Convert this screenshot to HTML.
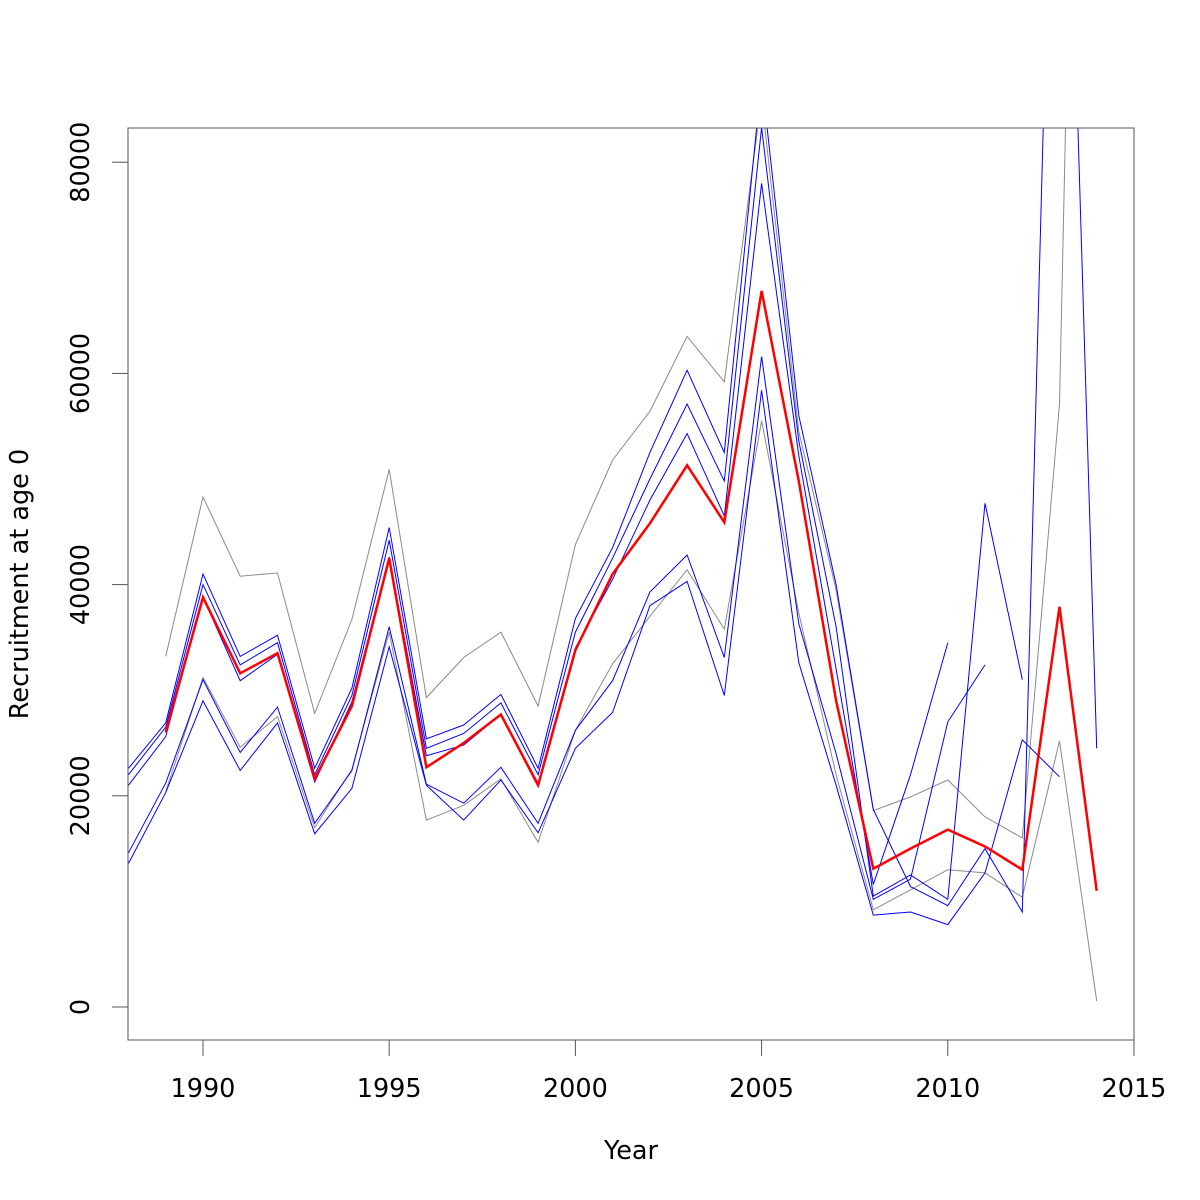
<!DOCTYPE html>
<html><head><meta charset="utf-8"><style>
html,body{margin:0;padding:0;background:#fff;}
svg{display:block;font-family:"DejaVu Sans","Liberation Sans",sans-serif;}
</style></head><body>
<svg id="chart" width="1200" height="1200" viewBox="0 0 1200 1200" xmlns="http://www.w3.org/2000/svg">
<defs><clipPath id="plotclip"><rect x="128" y="128" width="1006" height="912"/></clipPath></defs>
<rect x="0" y="0" width="1200" height="1200" fill="#fff"/>
<g id="axes"></g>
<g id="series" clip-path="url(#plotclip)"></g>
<rect x="128" y="128" width="1006" height="912" fill="none" stroke="#555" stroke-width="1"/>
<text x="631" y="1159" font-size="25.5" text-anchor="middle">Year</text>
<text transform="translate(28,584) rotate(-90)" font-size="25.5" text-anchor="middle">Recruitment at age 0</text>
</svg>
<script>
const years = [1988,1989,1990,1991,1992,1993,1994,1995,1996,1997,1998,1999,2000,2001,2002,2003,2004,2005,2006,2007,2008,2009,2010,2011,2012,2013,2014];
const xTicks = [1990,1995,2000,2005,2010,2015];
const yTicks = [0,20000,40000,60000,80000];
const redSeries = [null,26000,38800,31600,33500,21600,28500,42500,22700,25000,27700,21000,33800,41000,45800,51300,45900,67800,49800,29000,13100,15000,16800,15200,13000,37900,11000];
const grayUpper = [null,33200,48300,40800,41100,27800,36700,50900,29300,33100,35500,28500,43800,51800,56400,63500,59200,86000,54500,39500,18600,19900,21500,18000,16000,57100,219000];
const grayLower = [null,20400,31200,24600,27500,17000,22500,35500,17700,19100,21600,15600,26200,32500,37000,41400,35800,55500,37300,22000,9200,11100,13000,12700,10400,25200,570];
const blueE = [22600,26900,41000,33200,35200,22600,30200,45400,25400,26700,29600,22600,36800,43500,52500,60300,52500,88000,56000,40000,18700,11400,9600,15000,9000,141000,24500];
const blueC = [22000,26500,40000,32400,34500,22000,29500,44200,24500,25900,28800,22000,35500,42500,50000,57100,49800,83300,53600,36000,10500,12500,10200,47700,31000,null,null];
const blueA = [21000,25600,38800,30900,33400,21300,28900,42600,23800,24800,27700,21200,34000,40500,48000,54300,46500,78000,52200,32000,11600,22000,34500,null,null,null,null];
const blueB = [14600,21200,31000,24100,28400,17400,22400,36000,21100,19300,22700,17400,26200,30900,39300,42800,33100,61600,36300,24000,10200,12100,27000,32400,null,null,null];
const blueD = [13600,20300,29000,22400,26900,16400,20700,34100,21000,17700,21500,16500,24500,27900,38000,40300,29500,58400,32600,21000,8700,9000,7800,12700,25300,21800,null];

const NS = "http://www.w3.org/2000/svg";
const xScale = y => 128.5 + (y - 1988) * 37.24;
const yScale = v => 1007 - v * 0.01056;
const axes = document.getElementById('axes');
const series = document.getElementById('series');

function mk(tag, attrs, parent) {
  const el = document.createElementNS(NS, tag);
  for (const k in attrs) el.setAttribute(k, attrs[k]);
  parent.appendChild(el);
  return el;
}

xTicks.forEach(t => {
  const x = xScale(t);
  const tk = mk('line', {x1:x, x2:x, y1:1040, y2:1056, stroke:'#555'}, axes);
  
  
  const lb = mk('text', {x:x, y:1097, 'font-size':25.5, 'text-anchor':'middle'}, axes);
  lb.textContent = t;
  
  
});
yTicks.forEach(t => {
  const y = yScale(t);
  const tk = mk('line', {x1:112, x2:128, y1:y, y2:y, stroke:'#555'}, axes);
  
  
  const lb = mk('text', {transform:'translate(89,' + y + ') rotate(-90)', 'font-size':25.5, 'text-anchor':'middle'}, axes);
  lb.textContent = t;
  
  
});

function drawLine(vals, color, width, name) {
  let d = '';
  let pen = false;
  vals.forEach((v, i) => {
    if (v === null) { pen = false; return; }
    d += (pen ? 'L' : 'M') + xScale(years[i]).toFixed(1) + ' ' + yScale(v).toFixed(1) + ' ';
    pen = true;
  });
  const p = mk('path', {d:d, fill:'none', stroke:color, 'stroke-width':width, 'stroke-linejoin':'miter'}, series);
  
  
}
drawLine(grayUpper, '#8a8a8a', 1, 'gray-upper-bound-line');
drawLine(grayLower, '#8a8a8a', 1, 'gray-lower-bound-line');
drawLine(blueE, '#0000ff', 1, 'blue-retro-line-2014');
drawLine(blueC, '#0000ff', 1, 'blue-retro-line-2012');
drawLine(blueA, '#0000ff', 1, 'blue-retro-line-2010');
drawLine(blueB, '#0000ff', 1, 'blue-retro-line-2011');
drawLine(blueD, '#0000ff', 1, 'blue-retro-line-2013');
drawLine(redSeries, '#ff0000', 2.5, 'red-estimate-line');
</script>
</body></html>
